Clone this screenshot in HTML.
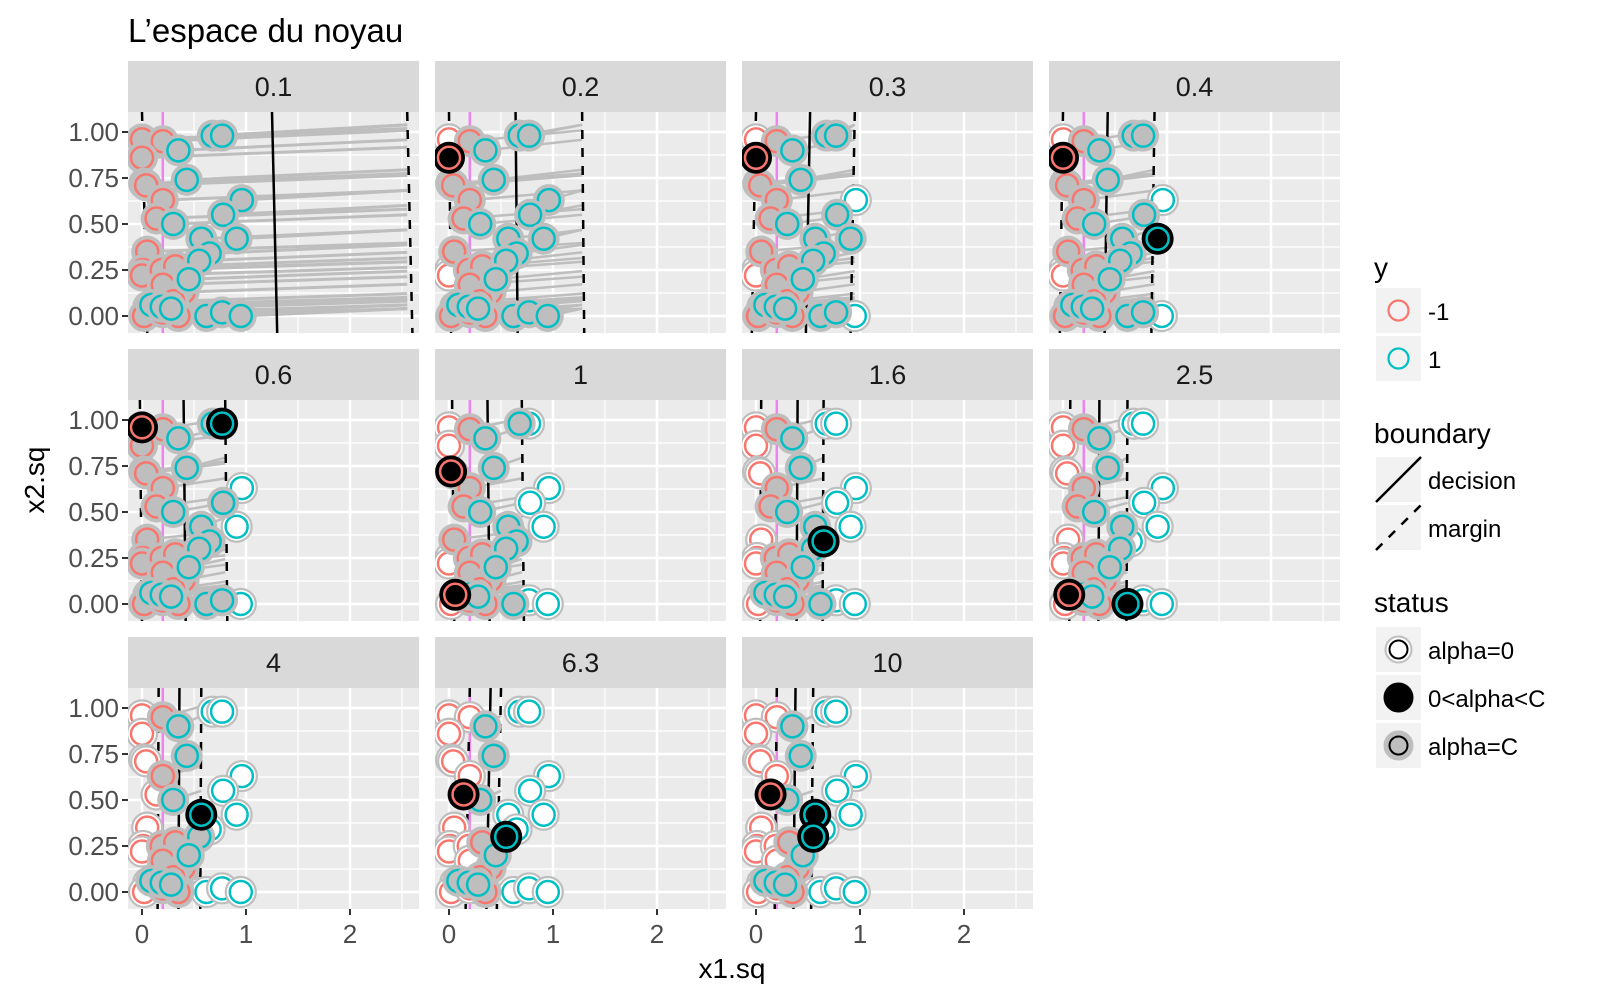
<!DOCTYPE html>
<html><head><meta charset="utf-8"><style>
html,body{margin:0;padding:0;background:#fff;}
svg{display:block;font-family:"Liberation Sans",Arial,sans-serif;}
</style></head><body>
<svg id="s" width="1600" height="1000" xmlns="http://www.w3.org/2000/svg"></svg>
<script>
const S=document.getElementById('s');let h='';
h+='<text x="128" y="42" font-size="33" fill="#000">L’espace du noyau</text>';
const red=[[0,0.96],[0.2,0.95],[0,0.86],[0.02,0.72],[0.04,0.71],[0.2,0.63],[0.14,0.53],[0.05,0.35],[0.01,0.25],[0,0.22],[0.19,0.25],[0.32,0.27],[0.2,0.17],[0.4,0.13],[0.06,0.05],[0.02,0],[0.35,0],[0.2,0.02],[0.3,0.08]];
const teal=[[0.68,0.98],[0.77,0.98],[0.35,0.9],[0.43,0.74],[0.96,0.63],[0.78,0.55],[0.3,0.5],[0.57,0.42],[0.91,0.42],[0.65,0.34],[0.55,0.3],[0.09,0.06],[0.19,0.05],[0.62,0],[0.77,0.02],[0.95,0],[0.45,0.2],[0.28,0.04]];
const P=[
['0.1',1.25,1.3,0.0,2.55,[]],
['0.2',0.64,0.66,0.0,1.28,[['r',0,0.86]]],
['0.3',0.52,0.48,0.0,0.95,[['r',0,0.86]]],
['0.4',0.43,0.4,0.0,0.88,[['r',0,0.86],['t',0.91,0.42]]],
['0.6',0.4,0.42,-0.02,0.8,[['r',0,0.96],['t',0.77,0.98]]],
['1',0.37,0.39,0.03,0.7,[['r',0.02,0.72],['r',0.06,0.05]]],
['1.6',0.4,0.39,0.05,0.65,[['t',0.65,0.34]]],
['2.5',0.35,0.34,0.07,0.62,[['t',0.62,0],['r',0.06,0.05]]],
['4',0.36,0.35,0.16,0.57,[['t',0.57,0.42]]],
['6.3',0.4,0.36,0.2,0.5,[['r',0.14,0.53],['t',0.55,0.3]]],
['10',0.38,0.36,0.2,0.55,[['r',0.14,0.53],['t',0.57,0.42],['t',0.55,0.3]]]
];
const R='#F8766D',T='#00BFC4';
P.forEach((p,i)=>{
 const c=i%4,r=Math.floor(i/4);const L=128+307*c,Tp=112+288*r,W=291,H=221;
 const X=v=>L+14+104*v, Y=v=>Tp+20+184*(1-v);
 h+=`<rect x="${L}" y="${Tp-51}" width="${W}" height="51" fill="#D9D9D9"/>`;
 h+=`<text x="${L+W/2}" y="${Tp-16}" font-size="27" text-anchor="middle" fill="#1A1A1A">${p[0]}</text>`;
 h+=`<svg x="${L}" y="${Tp}" width="${W}" height="${H}" overflow="hidden"><g transform="translate(${-L},${-Tp})">`;
 h+=`<rect x="${L}" y="${Tp}" width="${W}" height="${H}" fill="#EBEBEB"/>`;
 [0.5,1.5,2.5].forEach(v=>h+=`<line x1="${X(v)}" x2="${X(v)}" y1="${Tp}" y2="${Tp+H}" stroke="#fff" stroke-width="1.2"/>`);
 [0.125,0.375,0.625,0.875].forEach(v=>h+=`<line y1="${Y(v)}" y2="${Y(v)}" x1="${L}" x2="${L+W}" stroke="#fff" stroke-width="1.2"/>`);
 [0,1,2].forEach(v=>h+=`<line x1="${X(v)}" x2="${X(v)}" y1="${Tp}" y2="${Tp+H}" stroke="#fff" stroke-width="2.5"/>`);
 [0,0.25,0.5,0.75,1].forEach(v=>h+=`<line y1="${Y(v)}" y2="${Y(v)}" x1="${L}" x2="${L+W}" stroke="#fff" stroke-width="2.5"/>`);
 h+=`<line x1="${X(0.2)}" x2="${X(0.2)}" y1="${Tp}" y2="${Tp+H}" stroke="#EE82EE" stroke-width="2.5"/>`;
 const pts=[];red.forEach(q=>pts.push(['r',q[0],q[1]]));teal.forEach(q=>pts.push(['t',q[0],q[1]]));
 pts.forEach(q=>{
  let st;
  if(p[5].some(b=>b[0]==q[0]&&Math.abs(b[1]-q[1])<0.01&&Math.abs(b[2]-q[2])<0.01)) st='b';
  else if(q[0]=='t') st=(q[1]>=p[4]-0.01)?'z':'c';
  else st=(q[1]<=p[3]+0.01)?'z':'c';
  if(i==0) st='c';
  q.push(st);
 });
 pts.forEach(q=>{ if(q[3]=='c'){ h+=`<line x1="${X(q[1])}" y1="${Y(q[2])}" x2="${X(p[4])}" y2="${Y(q[2]+0.04+0.02*q[2])}" stroke="#BEBEBE" stroke-width="${i==0?3:2.5}"/>`; }});
 h+=`<line x1="${X(p[1])}" y1="${Tp}" x2="${X(p[2])}" y2="${Tp+H}" stroke="#000" stroke-width="2.5"/>`;
 h+=`<line x1="${X(p[3])}" y1="${Tp}" x2="${X(p[3]+(p[2]-p[1]))}" y2="${Tp+H}" stroke="#000" stroke-width="2.5" stroke-dasharray="9,9"/>`;
 h+=`<line x1="${X(p[4])}" y1="${Tp}" x2="${X(p[4]+(p[2]-p[1]))}" y2="${Tp+H}" stroke="#000" stroke-width="2.5" stroke-dasharray="9,9"/>`;
 ['z','c','b'].forEach(s=>pts.forEach(q=>{ if(q[3]!=s)return;
  const x=X(q[1]),y=Y(q[2]),col=q[0]=='r'?R:T;
  if(s=='z') h+=`<circle cx="${x}" cy="${y}" r="15" fill="#fff" stroke="#BEBEBE" stroke-width="2.2"/><circle cx="${x}" cy="${y}" r="11" fill="#fff" stroke="${col}" stroke-width="2.5"/>`;
  else if(s=='c') h+=`<circle cx="${x}" cy="${y}" r="16" fill="#BEBEBE"/><circle cx="${x}" cy="${y}" r="11" fill="#BEBEBE" stroke="${col}" stroke-width="2.5"/>`;
  else h+=`<circle cx="${x}" cy="${y}" r="16" fill="#000"/><circle cx="${x}" cy="${y}" r="11" fill="#000" stroke="${col}" stroke-width="2.5"/>`;
 }));
 h+='</g></svg>';
 if(c==0){[[0,'0.00'],[0.25,'0.25'],[0.5,'0.50'],[0.75,'0.75'],[1,'1.00']].forEach(t=>{
  h+=`<line x1="${L-6}" x2="${L}" y1="${Y(t[0])}" y2="${Y(t[0])}" stroke="#333" stroke-width="2"/>`;
  h+=`<text x="${L-9}" y="${Y(t[0])+9}" font-size="26" text-anchor="end" fill="#4D4D4D">${t[1]}</text>`;});}
 if(r==2){[0,1,2].forEach(v=>{
  h+=`<line x1="${X(v)}" x2="${X(v)}" y1="${Tp+H}" y2="${Tp+H+6}" stroke="#333" stroke-width="2"/>`;
  h+=`<text x="${X(v)}" y="${Tp+H+34}" font-size="26" text-anchor="middle" fill="#4D4D4D">${v}</text>`;});}
});
h+='<text x="732" y="978" font-size="28" text-anchor="middle">x1.sq</text>';
h+='<text transform="translate(44,480) rotate(-90)" font-size="28" text-anchor="middle">x2.sq</text>';
const lx=1376;
h+=`<text x="${lx-2}" y="277" font-size="28">y</text>`;
[[288,R,'-1'],[336,T,'1']].forEach(k=>{h+=`<rect x="${lx}" y="${k[0]}" width="45" height="45" fill="#F2F2F2"/><circle cx="${lx+22.5}" cy="${k[0]+22.5}" r="10" fill="none" stroke="${k[1]}" stroke-width="2.2"/><text x="1428" y="${k[0]+32}" font-size="24">${k[2]}</text>`;});
h+=`<text x="${lx-2}" y="443" font-size="28">boundary</text>`;
h+=`<rect x="${lx}" y="457" width="45" height="45" fill="#F2F2F2"/><line x1="${lx}" y1="502" x2="${lx+45}" y2="457" stroke="#000" stroke-width="2.5"/><text x="1428" y="489" font-size="24">decision</text>`;
h+=`<rect x="${lx}" y="505" width="45" height="45" fill="#F2F2F2"/><line x1="${lx}" y1="550" x2="${lx+45}" y2="505" stroke="#000" stroke-width="2.5" stroke-dasharray="9,9"/><text x="1428" y="537" font-size="24">margin</text>`;
h+=`<text x="${lx-2}" y="612" font-size="28">status</text>`;
[[627,'#fff','#BEBEBE','#fff','alpha=0',13],[675,'#000','#000','#000','0&lt;alpha&lt;C',14],[723,'#BEBEBE','#BEBEBE','#BEBEBE','alpha=C',14]].forEach(k=>{
 const cy=k[0]+22.5;
 h+=`<rect x="${lx}" y="${k[0]}" width="45" height="45" fill="#F2F2F2"/><circle cx="${lx+22.5}" cy="${cy}" r="${k[5]}" fill="${k[1]}" stroke="${k[2]}" stroke-width="2"/><circle cx="${lx+22.5}" cy="${cy}" r="9" fill="${k[3]}" stroke="#000" stroke-width="2"/><text x="1428" y="${k[0]+32}" font-size="24">${k[4]}</text>`;});
S.innerHTML=h;
</script>
</body></html>
